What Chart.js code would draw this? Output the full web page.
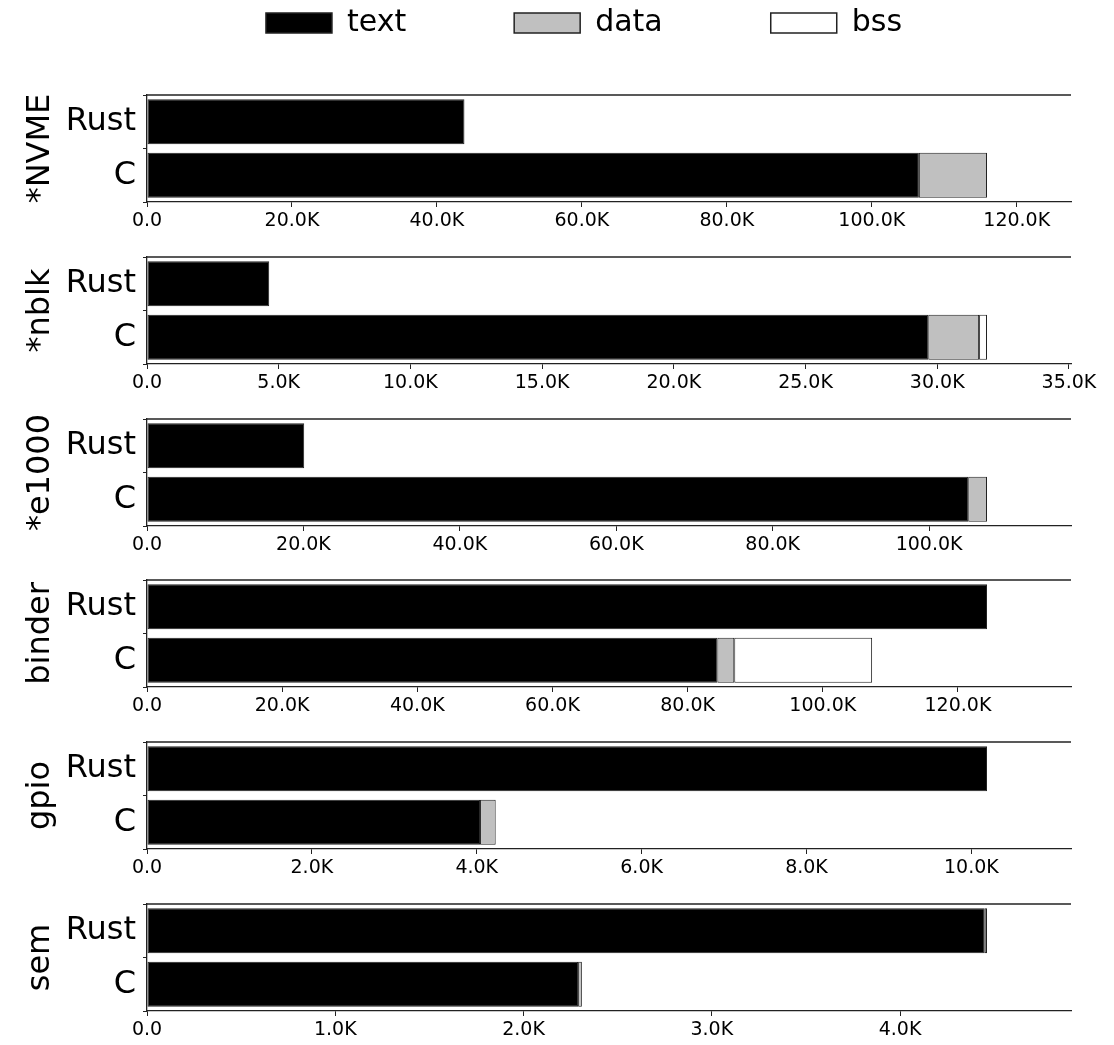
<!DOCTYPE html>
<html>
<head>
<meta charset="utf-8">
<script src="https://cdn.jsdelivr.net/npm/chart.js@4/dist/chart.umd.min.js"></script>
<style>
  html, body { margin: 0; padding: 0; background: #fff; overflow: hidden; }
  #wrap { position: relative; width: 1114px; height: 1045px; overflow: hidden; }
  canvas { position: absolute; left: 0; }
</style>
</head>
<body>
<div id="wrap"></div>
<script>
// Binary section sizes (bytes) per driver, Rust vs. C
const drivers  = ['*NVME', '*nblk', '*e1000', 'binder', 'gpio', 'sem'];
const langs    = ['Rust', 'C'];
const textRust = [43800, 4640, 20100, 124300, 10190, 4450];
const dataRust = [0, 0, 0, 0, 0, 12];
const bssRust  = [0, 0, 0, 0, 0, 0];
const textC    = [106500, 29660, 105000, 84400, 4040, 2290];
const dataC    = [9400, 1930, 2400, 2500, 190, 20];
const bssC     = [0, 300, 0, 20400, 0, 0];

// x-axis tick values for each panel
const ticksNVME   = [0, 20000, 40000, 60000, 80000, 100000, 120000];
const ticksNblk   = [0, 5000, 10000, 15000, 20000, 25000, 30000, 35000];
const ticksE1000  = [0, 20000, 40000, 60000, 80000, 100000];
const ticksBinder = [0, 20000, 40000, 60000, 80000, 100000, 120000];
const ticksGpio   = [0, 2000, 4000, 6000, 8000, 10000];
const ticksSem    = [0, 1000, 2000, 3000, 4000];
const panelTicks  = [ticksNVME, ticksNblk, ticksE1000, ticksBinder, ticksGpio, ticksSem];

const sections = ['text', 'data', 'bss'];
const fills    = ['#000000', '#c0c0c0', '#ffffff'];
const edge     = '#222222';
const FONT     = 'DejaVu Sans';

const W = 1114;
const PLOT_TOP0 = 95, PITCH = 161.8, PLOT_H = 107;
const PAD_TOP = 5, XAXIS_H = 40, AXIS_W = 147, PAD_RIGHT = 43;
const LEGEND_GAP = 108;

const wrap = document.getElementById('wrap');
function makeCanvas(top, h) {
  const c = document.createElement('canvas');
  c.width = W; c.height = h;
  c.style.top = top + 'px';
  c.style.width = W + 'px'; c.style.height = h + 'px';
  wrap.appendChild(c);
  return c.getContext('2d');
}

// top frame line of each panel
const topSpine = {
  id: 'topSpine',
  afterDraw(chart) {
    const { ctx, chartArea } = chart;
    ctx.save();
    ctx.strokeStyle = edge;
    ctx.lineWidth = 1.3;
    ctx.beginPath();
    ctx.moveTo(chartArea.left, chartArea.top);
    ctx.lineTo(chartArea.right, chartArea.top);
    ctx.stroke();
    ctx.restore();
  }
};

const fmtK = v => v === 0 ? '0.0' : (v / 1000).toFixed(1) + 'K';

// legend strip (its label padding also sets the gap between entries,
// so the canvas is shifted up by that padding)
new Chart(makeCanvas(8 - LEGEND_GAP, 700), {
  type: 'bar',
  data: {
    labels: [],
    datasets: sections.map((s, k) => ({
      label: s, data: [], backgroundColor: fills[k],
      borderColor: edge, borderWidth: 1.5
    }))
  },
  options: {
    responsive: false, animation: false, devicePixelRatio: 1,
    layout: { padding: { left: 54, top: 0 } },
    scales: { x: { display: false }, y: { display: false } },
    plugins: {
      tooltip: { enabled: false },
      legend: {
        display: true, position: 'top',
        labels: {
          boxWidth: 66, boxHeight: 20, padding: LEGEND_GAP,
          color: '#000', font: { family: FONT, size: 30 }
        }
      }
    }
  }
});

drivers.forEach((name, i) => {
  const rows = [
    [textRust[i], textC[i]],
    [dataRust[i], dataC[i]],
    [bssRust[i], bssC[i]]
  ];
  const totals = [textRust[i] + dataRust[i] + bssRust[i], textC[i] + dataC[i] + bssC[i]];
  const xMax = Math.max(...totals) * 1.1;
  const tickVals = panelTicks[i].filter(v => v <= xMax);
  const top = Math.round(PLOT_TOP0 + PITCH * i) - PAD_TOP;

  new Chart(makeCanvas(top, PAD_TOP + PLOT_H + XAXIS_H), {
    type: 'bar',
    data: {
      labels: langs,
      datasets: sections.map((s, k) => ({
        label: s, data: rows[k], backgroundColor: fills[k],
        borderColor: edge, borderWidth: 1, borderSkipped: false
      }))
    },
    options: {
      indexAxis: 'y',
      responsive: false, animation: false, devicePixelRatio: 1,
      layout: { padding: { top: PAD_TOP, right: PAD_RIGHT, left: 0, bottom: 0 } },
      datasets: { bar: { barPercentage: 0.84, categoryPercentage: 1.0 } },
      scales: {
        x: {
          type: 'linear', stacked: true, min: 0, max: xMax,
          afterBuildTicks(scale) { scale.ticks = tickVals.map(v => ({ value: v })); },
          afterFit(scale) {
            scale.height = XAXIS_H;
            scale.paddingLeft = 0; scale.paddingRight = 0;
          },
          border: { display: true, color: edge, width: 1.3 },
          grid: { drawOnChartArea: false, drawTicks: true, tickLength: 5, color: edge, lineWidth: 1 },
          ticks: {
            padding: 3, maxRotation: 0, autoSkip: false,
            color: '#000', font: { family: FONT, size: 19 },
            callback: v => fmtK(v)
          }
        },
        y: {
          type: 'category', stacked: true,
          afterFit(scale) {
            scale.width = AXIS_W;
            scale.paddingTop = 0; scale.paddingBottom = 0;
          },
          border: { display: true, color: edge, width: 1.3 },
          grid: { drawOnChartArea: false, drawTicks: true, tickLength: 4, color: edge, lineWidth: 1 },
          ticks: { padding: 7, color: '#000', font: { family: FONT, size: 32 } },
          title: {
            display: true, text: name, color: '#000',
            font: { family: FONT, size: 32 },
            padding: { top: 21, bottom: 0 }
          }
        }
      },
      plugins: { legend: { display: false }, tooltip: { enabled: false } }
    },
    plugins: [topSpine]
  });
});
</script>
</body>
</html>
